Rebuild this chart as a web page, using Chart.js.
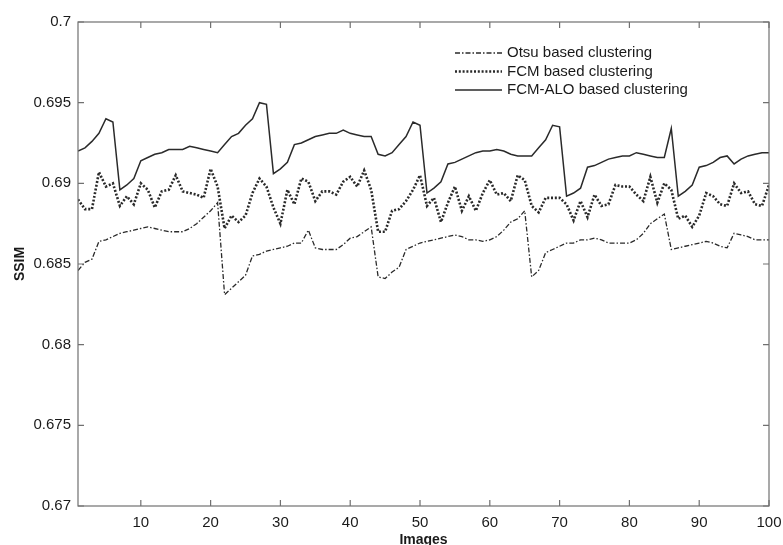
<!DOCTYPE html>
<html><head><meta charset="utf-8">
<script src="https://cdn.jsdelivr.net/npm/chart.js@4.4.0/dist/chart.umd.min.js"></script>
<style>html,body{margin:0;padding:0;background:#fff;}canvas{display:block;}</style>
</head><body>
<canvas id="c" width="783" height="545"></canvas>
<script>
const images = [1,2,3,4,5,6,7,8,9,10,11,12,13,14,15,16,17,18,19,20,21,22,23,24,25,26,27,28,29,30,31,32,33,34,35,36,37,38,39,40,41,42,43,44,45,46,47,48,49,50,51,52,53,54,55,56,57,58,59,60,61,62,63,64,65,66,67,68,69,70,71,72,73,74,75,76,77,78,79,80,81,82,83,84,85,86,87,88,89,90,91,92,93,94,95,96,97,98,99,100];

const otsu = [0.6846,0.6851,0.6853,0.6864,0.6865,0.6867,0.6869,0.6870,0.6871,0.6872,
0.6873,0.6872,0.6871,0.6870,0.6870,0.6870,0.6872,0.6875,0.6879,0.6883,
0.6888,0.6831,0.6835,0.6839,0.6843,0.6855,0.6856,0.6858,0.6859,0.6860,
0.6861,0.6863,0.6863,0.6871,0.6860,0.6859,0.6859,0.6859,0.6862,0.6866,
0.6867,0.6870,0.6873,0.6842,0.6841,0.6845,0.6848,0.6859,0.6861,0.6863,
0.6864,0.6865,0.6866,0.6867,0.6868,0.6867,0.6865,0.6865,0.6864,0.6865,
0.6867,0.6871,0.6876,0.6878,0.6883,0.6842,0.6846,0.6857,0.6859,0.6861,
0.6863,0.6863,0.6865,0.6865,0.6866,0.6865,0.6863,0.6863,0.6863,0.6863,
0.6865,0.6869,0.6875,0.6878,0.6881,0.6859,0.6860,0.6861,0.6862,0.6863,
0.6864,0.6863,0.6861,0.6860,0.6869,0.6868,0.6867,0.6865,0.6865,0.6865];

const fcm = [0.6890,0.6884,0.6884,0.6907,0.6898,0.6900,0.6886,0.6892,0.6887,0.6900,
0.6896,0.6885,0.6895,0.6896,0.6905,0.6895,0.6894,0.6893,0.6891,0.6909,
0.6898,0.6872,0.6880,0.6876,0.6880,0.6894,0.6903,0.6898,0.6885,0.6875,
0.6896,0.6887,0.6903,0.6901,0.6889,0.6895,0.6895,0.6893,0.6901,0.6904,
0.6898,0.6908,0.6896,0.6870,0.6870,0.6883,0.6884,0.6889,0.6896,0.6905,
0.6886,0.6891,0.6876,0.6888,0.6898,0.6883,0.6892,0.6883,0.6894,0.6902,
0.6893,0.6894,0.6889,0.6905,0.6902,0.6886,0.6882,0.6891,0.6891,0.6891,
0.6887,0.6877,0.6889,0.6879,0.6893,0.6886,0.6887,0.6899,0.6898,0.6898,
0.6893,0.6889,0.6904,0.6888,0.6900,0.6896,0.6878,0.6880,0.6873,0.6880,
0.6894,0.6892,0.6887,0.6886,0.6900,0.6894,0.6895,0.6887,0.6886,0.6899];

const fcmAlo = [0.6920,0.6922,0.6926,0.6931,0.6940,0.6938,0.6896,0.6899,0.6903,0.6914,
0.6916,0.6918,0.6919,0.6921,0.6921,0.6921,0.6923,0.6922,0.6921,0.6920,
0.6919,0.6924,0.6929,0.6931,0.6936,0.6940,0.6950,0.6949,0.6906,0.6909,
0.6913,0.6924,0.6925,0.6927,0.6929,0.6930,0.6931,0.6931,0.6933,0.6931,
0.6930,0.6929,0.6929,0.6918,0.6917,0.6919,0.6924,0.6929,0.6938,0.6936,
0.6894,0.6897,0.6901,0.6912,0.6913,0.6915,0.6917,0.6919,0.6920,0.6920,
0.6921,0.6920,0.6918,0.6917,0.6917,0.6917,0.6922,0.6927,0.6936,0.6935,
0.6892,0.6894,0.6897,0.6910,0.6911,0.6913,0.6915,0.6916,0.6917,0.6917,
0.6919,0.6918,0.6917,0.6916,0.6916,0.6934,0.6892,0.6895,0.6899,0.6910,
0.6911,0.6913,0.6916,0.6917,0.6912,0.6915,0.6917,0.6918,0.6919,0.6919];

const seriesLabels = ['Otsu based clustering','FCM based clustering','FCM-ALO based clustering'];
const xTicks = [10,20,30,40,50,60,70,80,90,100];
const yTicks = [0.67,0.675,0.68,0.685,0.69,0.695,0.7];
const yTickLabels = ['0.67','0.675','0.68','0.685','0.69','0.695','0.7'];
const xTitle = 'Images';
const yTitle = 'SSIM';

const FONT = "'Liberation Sans', Arial, sans-serif";
const toXY = vals => vals.map((v,i)=>({x: images[i], y: v}));

const boxPlugin = {
  id: 'boxTicks',
  afterDatasetsDraw(chart){
    const {ctx, chartArea:{left,right,top,bottom}, scales:{x,y}} = chart;
    ctx.save();
    ctx.strokeStyle = '#707070';
    ctx.lineWidth = 1.2;
    ctx.strokeRect(left, top, right-left, bottom-top);
    const L = 6;
    ctx.beginPath();
    xTicks.forEach(v=>{
      const px = x.getPixelForValue(v);
      ctx.moveTo(px, bottom); ctx.lineTo(px, bottom-L);
      ctx.moveTo(px, top); ctx.lineTo(px, top+L);
    });
    yTicks.forEach(v=>{
      const py = y.getPixelForValue(v);
      ctx.moveTo(left, py); ctx.lineTo(left+L, py);
      ctx.moveTo(right, py); ctx.lineTo(right-L, py);
    });
    ctx.stroke();
    ctx.restore();
  }
};

const legendPlugin = {
  id: 'innerLegend',
  afterDraw(chart){
    const {ctx, chartArea:{left,top}} = chart;
    ctx.save();
    const x0 = left + 377, x1 = left + 424, tx = left + 429;
    const rows = [top + 31, top + 49.5, top + 68];
    chart.data.datasets.forEach((ds,i)=>{
      const yy = rows[i];
      ctx.strokeStyle = ds.borderColor;
      ctx.lineWidth = ds.borderWidth;
      ctx.setLineDash(ds.borderDash || []);
      ctx.beginPath(); ctx.moveTo(x0, yy); ctx.lineTo(x1, yy); ctx.stroke();
      ctx.setLineDash([]);
      ctx.fillStyle = '#1a1a1a';
      ctx.font = '15px ' + FONT;
      ctx.textAlign = 'left'; ctx.textBaseline = 'middle';
      ctx.fillText(ds.label, tx, yy);
    });
    ctx.restore();
  }
};

new Chart(document.getElementById('c'), {
  type: 'line',
  data: {
    datasets: [
      {label: seriesLabels[0], data: toXY(otsu), borderColor:'#2a2a2a', borderWidth:1.3, borderDash:[5,2,1.5,2]},
      {label: seriesLabels[1], data: toXY(fcm), borderColor:'#2a2a2a', borderWidth:2.6, borderDash:[2,1.8]},
      {label: seriesLabels[2], data: toXY(fcmAlo), borderColor:'#2a2a2a', borderWidth:1.5}
    ]
  },
  options: {
    responsive: false,
    animation: false,
    devicePixelRatio: 1,
    layout: {padding: {left:0, top:22, right:14, bottom:0}},
    elements: {point: {radius:0}, line: {tension:0, fill:false}},
    plugins: {legend: {display:false}, tooltip: {enabled:false}},
    scales: {
      x: {
        type: 'linear', min: 1, max: 100,
        grid: {display:false, drawTicks:false},
        border: {display:false},
        afterBuildTicks: s => { s.ticks = xTicks.map(v=>({value:v})); },
        afterFit: s => { s.height = 39; s.paddingRight = 0; s.paddingLeft = 0; },
        ticks: {padding: 8, color:'#1a1a1a', font:{family:FONT, size:15}, maxRotation:0, autoSkip:false},
        title: {display:true, text:xTitle, color:'#1a1a1a', font:{family:FONT, size:14, weight:'bold'}, padding:{top:0,bottom:-4}}
      },
      y: {
        type: 'linear', min: 0.67, max: 0.7,
        grid: {display:false, drawTicks:false},
        border: {display:false},
        afterBuildTicks: s => { s.ticks = yTicks.map(v=>({value:v})); },
        afterFit: s => { s.width = 78; s.paddingTop = 0; s.paddingBottom = 0; },
        ticks: {padding: 7, color:'#1a1a1a', font:{family:FONT, size:15}, autoSkip:false,
          callback: (v, i) => yTickLabels[i]},
        title: {display:true, text:yTitle, color:'#1a1a1a', font:{family:FONT, size:14, weight:'bold'}, padding:{top:12,bottom:0}}
      }
    }
  },
  plugins: [boxPlugin, legendPlugin]
});
</script>
</body></html>
